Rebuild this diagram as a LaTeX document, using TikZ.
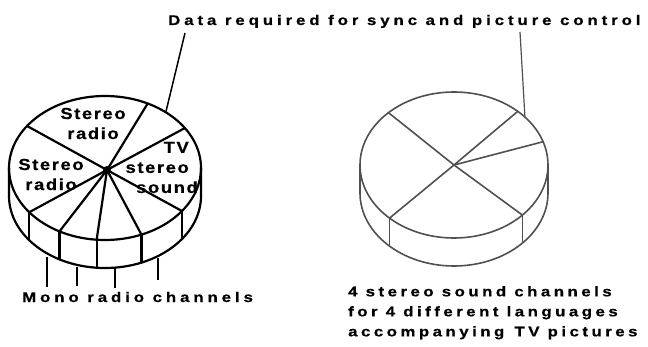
\documentclass[tikz,border=0pt]{standalone}
\usepackage{fontspec}
\setmainfont{Liberation Sans}
\newfontfamily\capfont{Liberation Sans}[UprightFont={* Bold},FakeStretch=1.2,LetterSpace=28,FakeBold=0.6]
\newfontfamily\capfontb{Liberation Sans}[UprightFont={* Bold},FakeStretch=1.2,LetterSpace=25,FakeBold=0.6]
\newfontfamily\lblfont{Liberation Sans}[UprightFont={* Bold},FakeStretch=1.15,LetterSpace=10,FakeBold=0.6]
\usetikzlibrary{calc}
\definecolor{rgray}{HTML}{505050}
\begin{document}
\begin{tikzpicture}[x=1pt,y=1pt,
  capt/.style={font=\capfont\fontsize{14}{20}\selectfont, inner sep=0pt, anchor=base west},
  captb/.style={font=\capfontb\fontsize{14}{20}\selectfont, inner sep=0pt, anchor=north west, align=left},
  lbl/.style={font=\lblfont\fontsize{16}{20}\selectfont, inner sep=0pt, align=center},
  lrim/.style={line width=2.2pt, line join=round, line cap=round},
  rrim/.style={line width=1.6pt, draw=rgray, line join=round, line cap=round},
  lead/.style={line width=1.5pt},
  rlead/.style={line width=1.2pt, draw=rgray},
  hub/.style={circle, fill=black, inner sep=0pt, minimum size=8pt}]
\useasboundingbox (0,0) rectangle (648,346);
% ---------- left disc ----------
\begin{scope}[shift={(105,178)}]
  \foreach \n/\t in {1/63.6,2/144.3,3/33.7,4/217.9,5/241.7,6/265,7/292.3,8/323.3,d/50.7}
    \coordinate (LT\n) at ({96*cos(\t)},{72*sin(\t)});
  \coordinate (LL) at (-96,0);
  \coordinate (LR) at (96,0);
  \coordinate (LLb) at (-96,-28);
  \node[hub] (LH) at (2,-2) {};
\end{scope}
\draw[lrim] (105,178) ellipse [x radius=96, y radius=72];
\draw[lrim] (LL) -- (LLb) arc[start angle=180, end angle=360, x radius=96, y radius=72] -- (LR);
\foreach \i in {1,...,8} \draw[lrim] (LH.center) -- (LT\i);
\foreach \i in {4,...,8} \draw[lrim] (LT\i) -- ++(0,-28);
% labels on left disc
\node[lbl] (sr1) at (93,222.5) {Stereo\\radio};
\node[lbl] (sr2) at (51,171.5) {Stereo\\radio};
\node[lbl, align=right, anchor=east] (tv) at (189,178.5) {TV\\stereo\\sound\hspace*{-9pt}};
% ---------- right disc ----------
\begin{scope}[shift={(454,181)}]
  \foreach \n/\t in {1/134.2,2/47.3,3/18.6,4/316.7,5/226.7,d/41}
    \coordinate (RT\n) at ({94*cos(\t)},{73*sin(\t)});
  \coordinate (RL) at (-94,0);
  \coordinate (RR) at (94,0);
  \coordinate (RLb) at (-94,-28);
  \coordinate (RH) at (0,0);
\end{scope}
\draw[rrim] (454,181) ellipse [x radius=94, y radius=73];
\draw[rrim] (RL) -- (RLb) arc[start angle=180, end angle=360, x radius=94, y radius=73] -- (RR);
\foreach \i in {1,...,5} \draw[rrim] (RH) -- (RT\i);
\foreach \i in {4,5} \draw[rrim] (RT\i) -- ++(0,-28);
% ---------- captions ----------
\node[capt] (data) at (168,321) {Data required for sync and picture control};
\node[capt] (mono) at (22,44) {Mono radio channels};
\node[captb] (four) at (348,60)
  {4 stereo sound channels\\for 4 different languages\\accompanying \hspace{2pt}TV pictures};
% ---------- leaders ----------
\coordinate (DL) at (185,313);
\coordinate (DR) at (520,314);
\draw[lead] (DL) -- (LTd);
\draw[rlead] (DR) -- (RTd);
\foreach \x/\a/\b in {47/89/59, 77/79/60, 115/79/58, 158/88/66}{
  \coordinate (m\x a) at (\x,\a);
  \coordinate (m\x b) at (\x,\b);
  \draw[lead] (m\x a) -- (m\x b);
}
\end{tikzpicture}
\end{document}
